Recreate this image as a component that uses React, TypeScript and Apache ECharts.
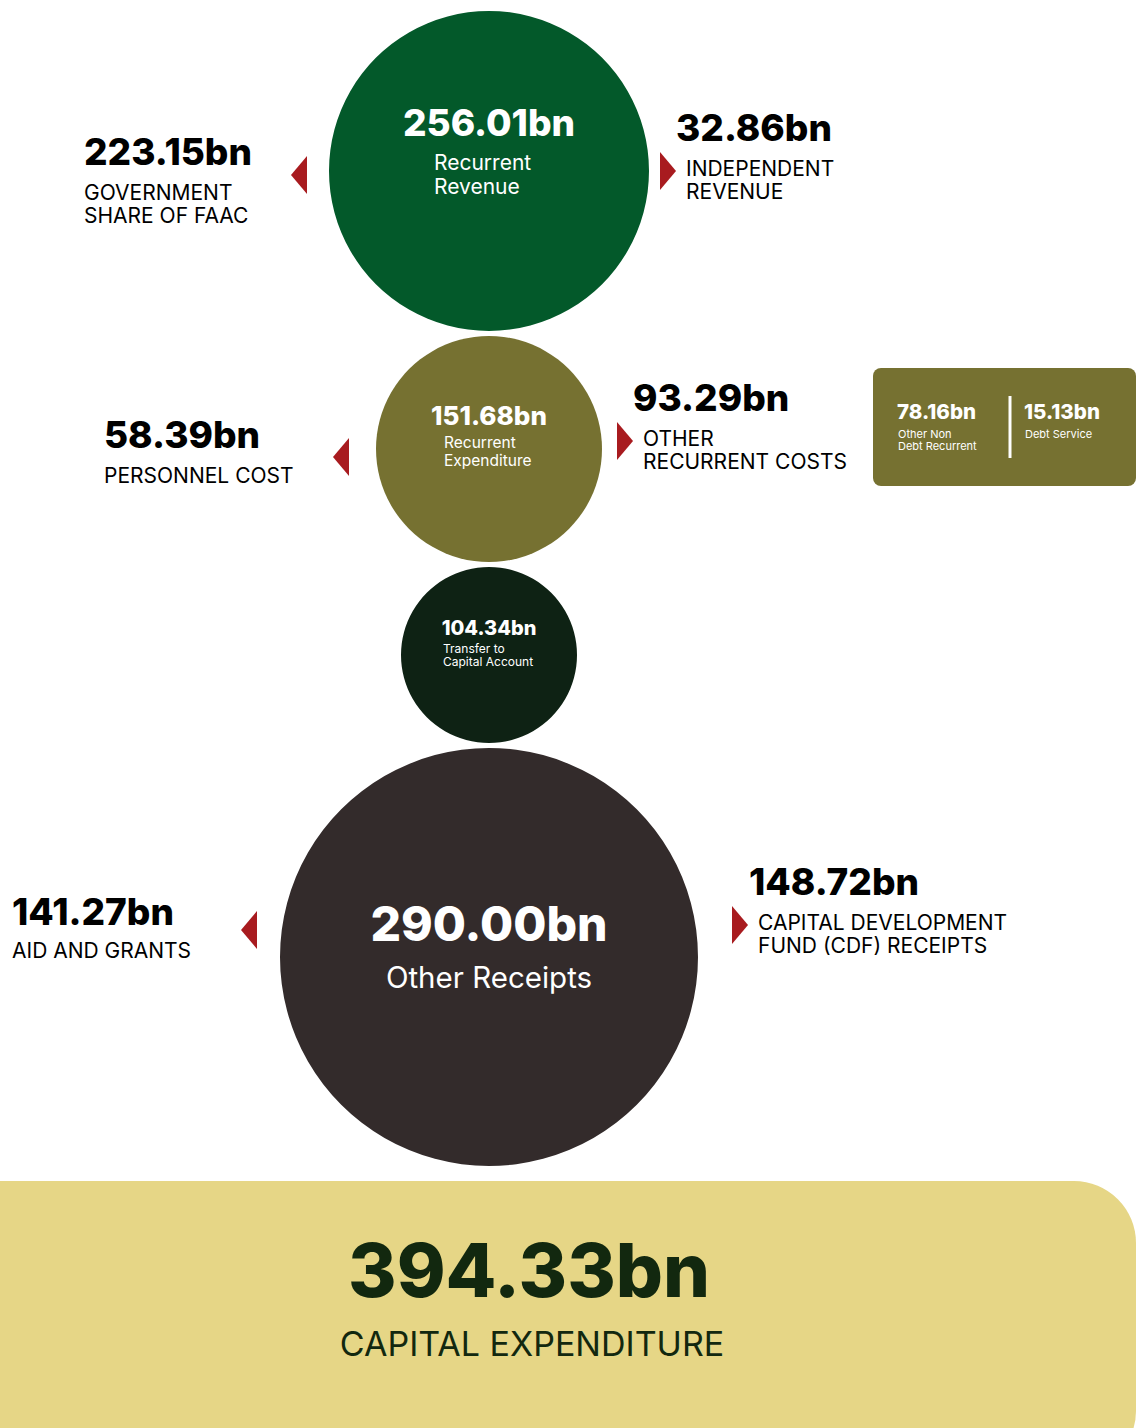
import React, { useEffect, useRef } from "react";
import * as echarts from "echarts";

// ---------- DATA ----------
const circleValues = [256.01, 151.68, 104.34, 290.0];
const circleLabels = ["Recurrent\nRevenue", "Recurrent\nExpenditure", "Transfer to\nCapital Account", "Other Receipts"];
const leftValues = [223.15, 58.39, 141.27];
const leftLabels = ["GOVERNMENT\nSHARE OF FAAC", "PERSONNEL COST", "AID AND GRANTS"];
const rightValues = [32.86, 93.29, 148.72];
const rightLabels = ["INDEPENDENT\nREVENUE", "OTHER\nRECURRENT COSTS", "CAPITAL DEVELOPMENT\nFUND (CDF) RECEIPTS"];
const breakdownValues = [78.16, 15.13];
const breakdownLabels = ["Other Non\nDebt Recurrent", "Debt Service"];
const totalValue = 394.33;
const totalLabel = "CAPITAL EXPENDITURE";

// ---------- LAYOUT / STYLE ----------
const FONT = "Inter, 'Open Sans', sans-serif";
const CX = 489;
const RADII = [160, 113, 88, 209];
const TOP = 11;
const GAP = 5;
const CIRCLE_COLORS = ["#03592a", "#767131", "#0e2214", "#332b2b"];
const ARROW = "#a81b1f";
const OLIVE = "#767131";
const BANNER = "#e6d686";
const DARK = "#12280f";
// inner text layout per circle: [valueSize, valueDy, labelSize, labelDx (null=center), firstLineDy, lineStep]
const INNER: [number, number, number, number | null, number, number][] = [
  [37, -49, 21, -55, -8.5, 24],
  [26, -34, 15.5, -45, -6.5, 18],
  [20, -27, 12, -46, -7, 13.5],
  [48, -34, 29.5, null, 20, 30],
];
// side blocks: value x, value y, label x, first label line y, arrow base x, arrow tip x, arrow cy
const LEFT_POS = [
  [84, 151, 84, 192, 307, 291, 175],
  [104, 434, 104, 475, 349, 333, 457],
  [12, 911, 12, 950, 257, 241, 930],
];
const RIGHT_POS = [
  [676, 127, 686, 168, 660, 676, 171],
  [633, 397, 643, 438, 617, 633, 441],
  [749, 881, 758, 922, 732, 748, 925],
];

const fmt = (v: number) => `${v.toFixed(2)}bn`;

const txt = (x: number, y: number, text: string, o: any) => ({
  type: "text",
  x,
  y,
  z: 2,
  style: {
    text,
    fontFamily: FONT,
    textAlign: o.align,
    align: o.align,
    textVerticalAlign: "middle",
    verticalAlign: "middle",
    fill: o.fill,
    fontWeight: o.weight,
    fontSize: o.size,
  },
});

// one text element per line
const lines = (x: number, y0: number, step: number, text: string, o: any) =>
  text.split("\n").map((t, k) => txt(x, y0 + k * step, t, o));

export default function App() {
  const ref = useRef<HTMLDivElement>(null);
  useEffect(() => {
    document.body.style.margin = "0";
    const chart = echarts.init(ref.current!, undefined, { renderer: "svg" });

    const cys: number[] = [];
    let acc = TOP;
    RADII.forEach((r) => {
      cys.push(acc + r);
      acc += 2 * r + GAP;
    });

    const graphics: any[] = [];
    // banner
    graphics.push({
      type: "rect",
      shape: { x: 0, y: 1181, width: 1136, height: 290, r: [0, 62, 60, 0] },
      style: { fill: BANNER },
      z: 0,
    });
    graphics.push(txt(529, 1270, fmt(totalValue), { fill: DARK, weight: 800, size: 74, align: "center" }));
    graphics.push(txt(532, 1343, totalLabel, { fill: DARK, weight: 400, size: 34, align: "center" }));

    const sideBlock = (value: number, label: string, p: number[]) => {
      const [vx, vy, lx, ly, bx, tx, ay] = p;
      graphics.push(txt(vx, vy, fmt(value), { fill: "#000", weight: 800, size: 37, align: "left" }));
      graphics.push(...lines(lx, ly, 23, label, { fill: "#000", weight: 400, size: 21, align: "left" }));
      graphics.push({
        type: "polygon",
        shape: { points: [[bx, ay - 19], [bx, ay + 19], [tx, ay]] },
        style: { fill: ARROW },
        z: 2,
      });
    };
    leftValues.forEach((v, i) => sideBlock(v, leftLabels[i], LEFT_POS[i]));
    rightValues.forEach((v, i) => sideBlock(v, rightLabels[i], RIGHT_POS[i]));

    // breakdown box
    graphics.push({
      type: "rect",
      shape: { x: 873, y: 368, width: 263, height: 118, r: 8 },
      style: { fill: OLIVE },
      z: 1,
    });
    graphics.push({
      type: "line",
      shape: { x1: 1010, y1: 396, x2: 1010, y2: 458 },
      style: { stroke: "#fff", lineWidth: 3 },
      z: 2,
    });
    const bxs = [897, 1024];
    breakdownValues.forEach((v, i) => {
      graphics.push(txt(bxs[i], 411, fmt(v), { fill: "#fff", weight: 800, size: 20.5, align: "left" }));
      graphics.push(...lines(bxs[i] + 1, 434, 12, breakdownLabels[i], { fill: "#fff", weight: 400, size: 11, align: "left" }));
    });

    chart.setOption({
      animation: false,
      graphic: { elements: graphics },
      series: [
        {
          type: "custom",
          coordinateSystem: "none",
          silent: true,
          data: circleValues.map((v, i) => [i, v]),
          renderItem: (params: any, api: any) => {
            const i = params.dataIndex;
            const v = api.value(1) as number;
            const r = RADII[i];
            const cy = cys[i];
            const [vs, vdy, ls, ldx, ldy, step] = INNER[i];
            const centered = ldx === null;
            return {
              type: "group",
              children: [
                { type: "circle", shape: { cx: CX, cy, r }, style: { fill: CIRCLE_COLORS[i] } },
                txt(CX, cy + vdy, fmt(v), { fill: "#fff", weight: 800, size: vs, align: "center" }),
                ...lines(centered ? CX : CX + (ldx as number), cy + ldy, step, circleLabels[i], {
                  fill: "#fff",
                  weight: 400,
                  size: ls,
                  align: centered ? "center" : "left",
                }),
              ],
            };
          },
        },
      ],
    });
    return () => chart.dispose();
  }, []);
  return <div ref={ref} style={{ width: 1136, height: 1428 }} />;
}
